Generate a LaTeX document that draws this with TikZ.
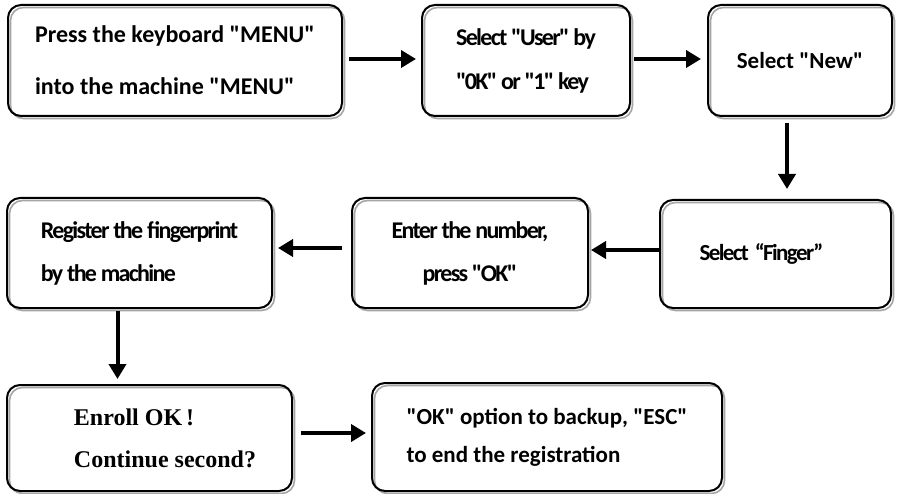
\documentclass[tikz,border=0pt]{standalone}
\usepackage{fontspec}
\setmainfont{Carlito}
\newfontfamily\calfont{Carlito}
\newfontfamily\timesfont{Liberation Serif}
\newfontfamily\tightfont{Carlito}[LetterSpace=-7]
\usetikzlibrary{arrows.meta}
\usetikzlibrary{positioning}

\begin{document}
\begin{tikzpicture}[x=1pt,y=-1pt,
  stepbox/.style={rectangle, rounded corners=13pt, draw=black, line width=2pt, inner sep=0pt,
    preaction={fill=white},
    preaction={draw=black!35, line width=1.6pt, transform canvas={shift={(2.5pt,-2.5pt)}}}},
  flow/.style={-{Triangle[length=15pt,width=17pt]}, line width=4pt}]
\useasboundingbox (0,0) rectangle (899,494);
% first row
\node[stepbox, minimum width=334pt, minimum height=111pt, align=left,
  font=\fontsize{24}{52}\selectfont\calfont\bfseries] (menu) at (175,60.5)
  {Press the keyboard "MENU"\\into the machine "MENU"};
\node[stepbox, minimum width=208pt, minimum height=111pt, align=left,
  font=\fontsize{24}{44}\selectfont\tightfont\bfseries] (user) at (526,60.5)
  {Select "User" by\\"0K" or "1" key};
\node[stepbox, minimum width=184pt, minimum height=111pt,
  font=\fontsize{23}{44}\selectfont\calfont\bfseries] (new) at (800,60.5)
  {Select "New"};
% second row
\node[stepbox, minimum width=231pt, minimum height=108pt,
  font=\fontsize{23}{44}\selectfont\tightfont\bfseries] (finger) at (775.5,254)
  {Select\hspace{6pt}“Finger”\hspace*{28pt}\rule{0pt}{1pt}};
\node[stepbox, minimum width=236pt, minimum height=110pt, align=center,
  font=\fontsize{24}{43}\selectfont\tightfont\bfseries] (number) at (470,253)
  {Enter the number,\\press "OK"};
\node[stepbox, minimum width=265pt, minimum height=110pt, align=left,
  font=\fontsize{24}{43}\selectfont\tightfont\bfseries] (register) at (139.5,253)
  {Register the fingerprint\\by the machine};
% third row
\node[stepbox, minimum width=285pt, minimum height=106pt, align=left,
  font=\fontsize{24}{42}\selectfont\timesfont\bfseries] (enroll) at (149.5,438)
  {\hspace*{31pt}Enroll OK\,!\\\hspace*{31pt}Continue second?};
\node[stepbox, minimum width=350pt, minimum height=108pt, align=left,
  font=\fontsize{23}{38}\selectfont\calfont\bfseries] (backup) at (547,437)
  {"OK" option to backup, "ESC"\\to end the registration};
% arrows
\draw[flow, shorten <=6pt, shorten >=5pt] ([yshift=1.5pt]menu.east) -- ([yshift=1.5pt]user.west);
\draw[flow, shorten <=3pt, shorten >=6pt] ([yshift=1.5pt]user.east) -- ([yshift=1.5pt]new.west);
\draw[flow, shorten <=6pt, shorten >=10pt] ([xshift=-13pt]new.south) -- ([xshift=-13pt]new.south |- finger.north);
\draw[flow, shorten >=2pt] ([yshift=4pt]finger.west) -- ([yshift=4pt]finger.west -| number.east);
\draw[flow, shorten <=9pt, shorten >=5pt] ([yshift=5pt]number.west) -- ([yshift=5pt]number.west -| register.east);
\draw[flow, shorten <=2pt, shorten >=5pt] ([xshift=-22pt]register.south) -- ([xshift=-22pt]register.south |- enroll.north);
\draw[flow, shorten <=8pt, shorten >=5pt] ([yshift=5pt]enroll.east) -- ([yshift=5pt]enroll.east -| backup.west);
\end{tikzpicture}
\end{document}
